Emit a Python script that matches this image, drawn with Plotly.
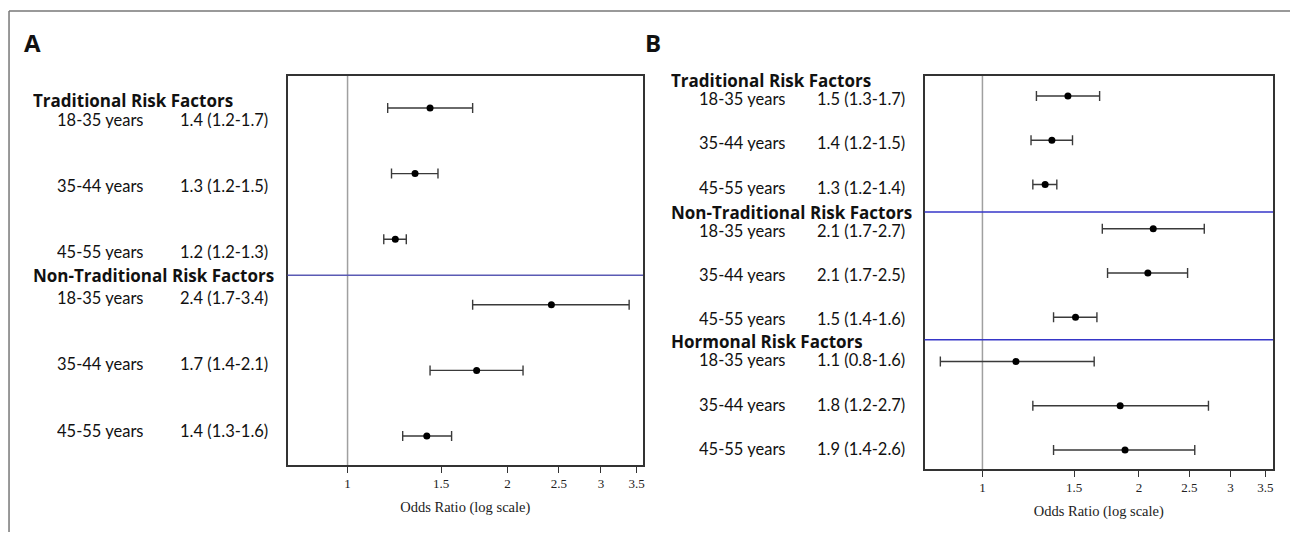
import plotly.graph_objects as go
import math

# page body has an 8px margin; figure is sized so page = 1298x540
OFF = 8
W, H = 1298 - 2 * OFF, 540 - 2 * OFF

# ---------------- data ----------------
age_groups = ["18-35 years", "35-44 years", "45-55 years"]

groups_A = ["Traditional Risk Factors", "Non-Traditional Risk Factors"]
A_or = [1.43, 1.34, 1.23, 2.42, 1.75, 1.41]
A_lo = [1.19, 1.21, 1.17, 1.72, 1.43, 1.27]
A_hi = [1.72, 1.48, 1.29, 3.39, 2.14, 1.57]
A_labels = ["1.4 (1.2-1.7)", "1.3 (1.2-1.5)", "1.2 (1.2-1.3)",
            "2.4 (1.7-3.4)", "1.7 (1.4-2.1)", "1.4 (1.3-1.6)"]

groups_B = ["Traditional Risk Factors", "Non-Traditional Risk Factors", "Hormonal Risk Factors"]
B_or = [1.46, 1.36, 1.32, 2.13, 2.08, 1.51, 1.16, 1.84, 1.88]
B_lo = [1.27, 1.24, 1.25, 1.70, 1.74, 1.37, 0.83, 1.25, 1.37]
B_hi = [1.68, 1.49, 1.39, 2.67, 2.48, 1.66, 1.64, 2.72, 2.56]
B_labels = ["1.5 (1.3-1.7)", "1.4 (1.2-1.5)", "1.3 (1.2-1.4)",
            "2.1 (1.7-2.7)", "2.1 (1.7-2.5)", "1.5 (1.4-1.6)",
            "1.1 (0.8-1.6)", "1.8 (1.2-2.7)", "1.9 (1.4-2.6)"]

tick_vals = [1, 1.5, 2, 2.5, 3, 3.5]
tick_text = ["1", "1.5", "2", "2.5", "3", "3.5"]
axis_title = "Odds Ratio (log scale)"

# ---------------- helpers (page pixel -> paper) ----------------
def px(x):
    return (x - OFF) / W

def py(y):
    return 1 - (y - OFF) / H

LBL_FONT = "Lato"
HEAD_FONT = "Open Sans"
SERIF = "Liberation Serif"
ERR_COL = "#3a3a3a"
FRAME_COL = "#333333"

fig = go.Figure()

def add_panel(vals, lo, hi, xa, ya):
    n = len(vals)
    fig.add_trace(go.Scatter(
        x=vals, y=list(range(n)), mode="markers",
        marker=dict(color="black", size=7),
        error_x=dict(type="data", symmetric=False,
                     array=[h - v for h, v in zip(hi, vals)],
                     arrayminus=[v - l for v, l in zip(vals, lo)],
                     color=ERR_COL, thickness=1.4, width=5),
        xaxis=xa, yaxis=ya, showlegend=False, hoverinfo="skip"))

add_panel(A_or, A_lo, A_hi, "x", "y")
add_panel(B_or, B_lo, B_hi, "x2", "y2")

def xaxis_cfg(domain, rng, anchor):
    return dict(domain=domain, anchor=anchor, type="log",
                range=[math.log10(rng[0]), math.log10(rng[1])],
                tickvals=tick_vals, ticktext=tick_text, ticks="outside", ticklen=6,
                tickwidth=1.3, tickcolor=FRAME_COL, showgrid=False, zeroline=False,
                showline=True, linecolor=FRAME_COL, linewidth=1.6, mirror=True,
                tickfont=dict(family=SERIF, size=13, color="#222"),
                title=dict(text=axis_title, font=dict(family=SERIF, size=14.5, color="#222"),
                           standoff=11))

def yaxis_cfg(domain, rng, anchor):
    return dict(domain=domain, anchor=anchor, range=rng, showticklabels=False, ticks="",
                showgrid=False, zeroline=False, showline=True, linecolor=FRAME_COL,
                linewidth=1.6, mirror=True)

fig.update_layout(
    width=W, height=H, margin=dict(l=0, r=0, t=0, b=0),
    paper_bgcolor="white", plot_bgcolor="white",
    xaxis=xaxis_cfg([px(288), px(644)], (0.771, 3.60), "y"),
    yaxis=yaxis_cfg([py(465), py(76)], [5 + 29 / 65.6, -32 / 65.6], "x"),
    xaxis2=xaxis_cfg([px(926), px(1275)], (0.774, 3.62), "y2"),
    yaxis2=yaxis_cfg([py(469), py(76)], [8 + 19 / 44.25, -20 / 44.25], "x2"),
)

# reference lines at OR = 1
for xr, yr in (("x", "y"), ("x2", "y2")):
    fig.add_shape(type="line", xref=xr, yref=f"{yr} domain", x0=1, x1=1, y0=0, y1=1,
                  line=dict(color="#a0a0a0", width=1.5), layer="below")

# group separators
for yr, yv, col in (("y", 2.55, "#5a5ab4"), ("y2", 2.62, "#3636c8"), ("y2", 5.51, "#3636c8")):
    xr = "x" if yr == "y" else "x2"
    fig.add_shape(type="line", xref=f"{xr} domain", yref=yr, x0=0, x1=1, y0=yv, y1=yv,
                  line=dict(color=col, width=1.4))

# outer frame (top and left)
fig.add_shape(type="line", xref="paper", yref="paper", x0=0.0008, x1=1.02, y0=py(11), y1=py(11),
              line=dict(color="#777", width=1.5))
fig.add_shape(type="line", xref="paper", yref="paper", x0=0.0008, x1=0.0008, y0=py(11), y1=-0.02,
              line=dict(color="#777", width=1.5))

def ann(text, x, y, size, bold=False, anchor="left", family=LBL_FONT, h=None):
    kw = {}
    if h is not None:
        kw["height"] = h
    fig.add_annotation(text=f"<b>{text}</b>" if bold else text, xref="paper", yref="paper",
                       x=px(x), y=py(y), xanchor=anchor, yanchor="middle", showarrow=False,
                       font=dict(family=family, size=size, color="#111"), **kw)

# panel letters
ann("A", 22, 42, 24, bold=True, family=HEAD_FONT)
ann("B", 644, 42, 24, bold=True, family=HEAD_FONT)

# panel A text
A_head_y = [100, 275]
A_row_y = [120, 186, 252, 298, 364, 431]
for g, yv in zip(groups_A, A_head_y):
    ann(g, 31, yv, 17, bold=True, family=HEAD_FONT, h=16)
for i, yv in enumerate(A_row_y):
    ann(age_groups[i % 3], 55, yv, 16.5, h=16)
    ann(A_labels[i], 178, yv, 16.5, h=16)

# panel B text
B_head_y = [80, 212, 341]
B_row_y = [99, 143, 188, 231, 275, 319, 360, 405, 449]
for g, yv in zip(groups_B, B_head_y):
    ann(g, 670, yv, 17, bold=True, family=HEAD_FONT, h=16)
for i, yv in enumerate(B_row_y):
    ann(age_groups[i % 3], 698, yv, 16.5, h=16)
    ann(B_labels[i], 908, yv, 16.5, anchor="right", h=16)

fig.write_html("out.html")
